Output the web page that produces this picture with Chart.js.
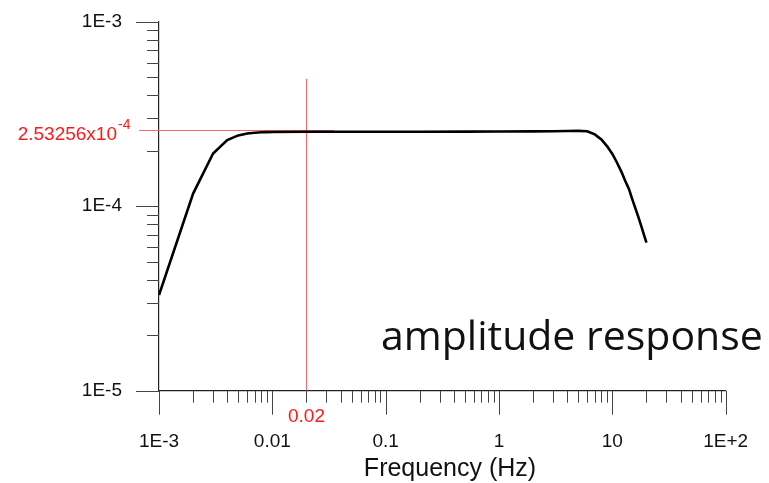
<!DOCTYPE html>
<html><head><meta charset="utf-8">
<script src="https://cdn.jsdelivr.net/npm/chart.js@4.4.0/dist/chart.umd.min.js"></script>
<style>html,body{margin:0;padding:0;background:#fff;}canvas{display:block;}</style>
</head><body>
<canvas id="c" width="769" height="483"></canvas>
<script>
// ---- data ----
const frequencies = [0.001,0.002,0.003,0.004,0.005,0.006,0.007,0.008,0.009,0.01,0.02,0.05,0.1,0.2,0.5,1,2,3,4,5,6,7,8,9,10,11,12,13,14,15,16,17,18,19,20];
const amplitudes = [3.3e-5,1.17e-4,1.93e-4,2.28e-4,2.42e-4,2.48e-4,2.50e-4,2.515e-4,2.52e-4,2.525e-4,2.531e-4,2.532e-4,2.532e-4,2.533e-4,2.535e-4,2.538e-4,2.545e-4,2.55e-4,2.555e-4,2.56e-4,2.55e-4,2.45e-4,2.30e-4,2.11e-4,1.92e-4,1.72e-4,1.54e-4,1.37e-4,1.24e-4,1.09e-4,9.7e-5,8.7e-5,7.8e-5,7.0e-5,6.35e-5];
const xTickValues = [1e-3,1e-2,1e-1,1,10,100];
const xTickLabels = ['1E-3','0.01','0.1','1','10','1E+2'];
const yTickValues = [1e-5,1e-4,1e-3];
const yTickLabels = ['1E-5','1E-4','1E-3'];
const minorMultipliers = [2,3,4,5,6,7,8,9];
const refFrequency = 0.02;
const refFrequencyLabel = '0.02';
const refAmplitude = 2.53256e-4;
const refAmplitudeMantissa = '2.53256x10';
const refAmplitudeExponent = '-4';
const refHLineEndFreq = 0.035;
const refVLineTopAmp = 4.9e-4;
const xTitle = 'Frequency (Hz)';
const noteText = 'amplitude response';

const SANS = '"Liberation Sans",Arial,sans-serif';

const decor = {
  id: 'decor',
  beforeDatasetsDraw(chart) {
    const {ctx, scales: {x, y}, chartArea: ca} = chart;
    ctx.save();
    ctx.strokeStyle = '#f26a6a';
    ctx.lineWidth = 1;
    const ry = Math.round(y.getPixelForValue(refAmplitude)) - 1.5;
    const rx = Math.round(x.getPixelForValue(refFrequency)) + 0.5;
    ctx.beginPath();
    ctx.moveTo(ca.left - 20, ry); ctx.lineTo(x.getPixelForValue(refHLineEndFreq), ry);
    ctx.moveTo(rx, y.getPixelForValue(refVLineTopAmp)); ctx.lineTo(rx, ca.bottom);
    ctx.stroke();
    ctx.restore();
  },
  afterDraw(chart) {
    const {ctx, scales: {x, y}, chartArea: ca} = chart;
    ctx.save();
    ctx.strokeStyle = '#444';
    ctx.lineWidth = 1;
    ctx.beginPath();
    xTickValues.forEach((v, i) => {
      const px = Math.round(x.getPixelForValue(v)) + 0.5;
      ctx.moveTo(px, ca.bottom); ctx.lineTo(px, ca.bottom + 24);
      if (i < xTickValues.length - 1) minorMultipliers.forEach(m => {
        const mp = Math.round(x.getPixelForValue(v * m)) + 0.5;
        ctx.moveTo(mp, ca.bottom); ctx.lineTo(mp, ca.bottom + 12);
      });
    });
    yTickValues.forEach((v, i) => {
      const py = Math.round(y.getPixelForValue(v)) + 0.5;
      ctx.moveTo(ca.left, py); ctx.lineTo(ca.left - 23, py);
      if (i < yTickValues.length - 1) minorMultipliers.forEach(m => {
        const mp = Math.round(y.getPixelForValue(v * m)) + 0.5;
        ctx.moveTo(ca.left, mp); ctx.lineTo(ca.left - 12, mp);
      });
    });
    ctx.stroke();

    const ry = y.getPixelForValue(refAmplitude);
    ctx.fillStyle = '#ff1a1a';
    ctx.font = '19px ' + SANS;
    ctx.textBaseline = 'middle';
    ctx.textAlign = 'right';
    ctx.fillText(refAmplitudeMantissa, 117, ry + 3);
    ctx.font = '14px ' + SANS;
    ctx.textAlign = 'left';
    ctx.fillText(refAmplitudeExponent, 118, ry - 7);
    ctx.font = '19px ' + SANS;
    ctx.textAlign = 'center';
    ctx.fillText(refFrequencyLabel, x.getPixelForValue(refFrequency), 417);

    ctx.fillStyle = '#111';
    ctx.font = '25px ' + SANS;
    ctx.textAlign = 'center';
    ctx.fillText(xTitle, 450, 469);

    ctx.font = '41px "Open Sans",Lato,sans-serif';
    ctx.textAlign = 'left';
    ctx.textBaseline = 'alphabetic';
    ctx.fillText(noteText, 381, 350);
    ctx.restore();
  }
};

const noPad = s => { s.paddingLeft = 0; s.paddingRight = 0; s.paddingTop = 0; s.paddingBottom = 0; };

new Chart(document.getElementById('c'), {
  type: 'line',
  data: {
    datasets: [{
      data: frequencies.map((f, i) => ({x: f, y: amplitudes[i]})),
      borderColor: '#000', borderWidth: 2.6, pointRadius: 0, tension: 0, fill: false
    }]
  },
  options: {
    responsive: false, animation: false, devicePixelRatio: 1,
    layout: {padding: {left: 0, right: 769 - 725.7, top: 21.7, bottom: 0}},
    plugins: {legend: {display: false}, tooltip: {enabled: false}},
    scales: {
      x: {
        type: 'logarithmic', min: 1e-3, max: 100, position: 'bottom',
        grid: {display: false, drawTicks: false},
        border: {display: true, color: '#222', width: 1.2},
        afterBuildTicks: s => { s.ticks = xTickValues.map(v => ({value: v})); },
        afterFit: s => { s.height = 483 - 390.7; noPad(s); },
        ticks: {autoSkip: false, maxRotation: 0, minRotation: 0, padding: 40, color: '#111',
          font: {family: SANS, size: 19},
          callback: (v, i) => xTickLabels[i]}
      },
      y: {
        type: 'logarithmic', min: 1e-5, max: 1e-3, position: 'left',
        grid: {display: false, drawTicks: false},
        border: {display: true, color: '#222', width: 1.2},
        afterBuildTicks: s => { s.ticks = yTickValues.map(v => ({value: v})); },
        afterFit: s => { s.width = 159; noPad(s); },
        ticks: {autoSkip: false, padding: 37, color: '#111',
          font: {family: SANS, size: 19},
          callback: (v, i) => yTickLabels[i]}
      }
    }
  },
  plugins: [decor]
});
</script>
</body></html>
